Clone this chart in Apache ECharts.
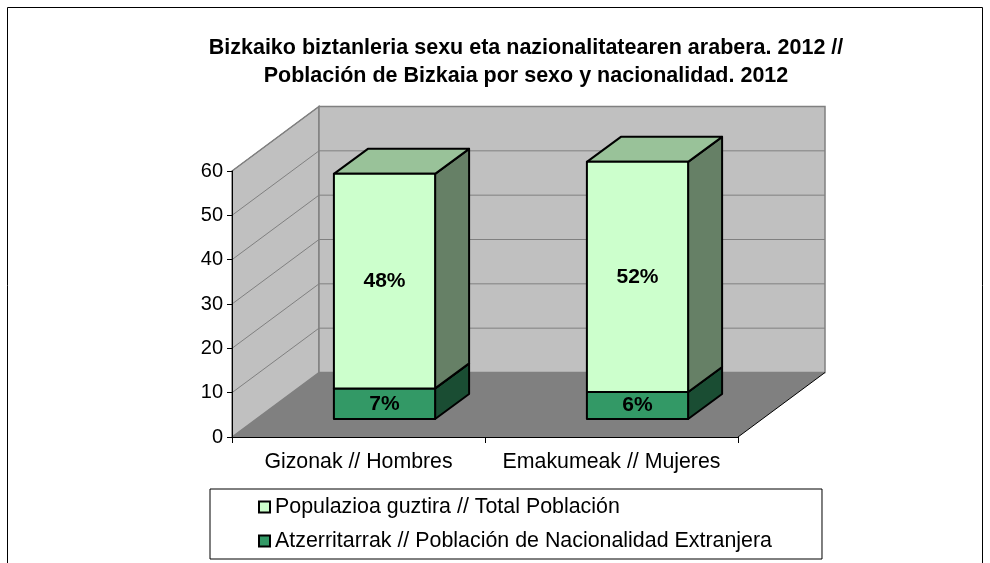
<!DOCTYPE html>
<html>
<head>
<meta charset="utf-8">
<script src="https://cdn.jsdelivr.net/npm/echarts@6/dist/echarts.min.js"></script>
<style>
  html, body { margin: 0; padding: 0; background: #fff; }
  #chart { width: 990px; height: 563px; }
</style>
</head>
<body>
<div id="chart"></div>
<script>
// data
const categories = ['Gizonak // Hombres', 'Emakumeak // Mujeres'];
const foreignValues = [6.9, 6.1];   // Atzerritarrak
const totalValues = [48.4, 51.9];   // Populazioa guztira
const yTicks = [0, 10, 20, 30, 40, 50, 60];
const seriesNames = [
  'Populazioa guztira // Total Población',
  'Atzerritarrak // Población de Nacionalidad Extranjera'
];

const FONT = 'Arial, "Liberation Sans", sans-serif';
const DEPTH = [87, -64.5];     // depth of the floor / walls
const BAR_OFF = [26, -18];     // where the front face of a bar sits
const BAR_DEPTH = [34, -25];   // depth of a bar

// stacked ranges: [category, from, to, value]
const foreignData = foreignValues.map((v, i) => [i, 0, v, v]);
const totalData = totalValues.map((v, i) => [i, foreignValues[i], foreignValues[i] + v, v]);

function renderWalls(params, api) {
  const cs = params.coordSys;
  const xl = cs.x, xr = cs.x + cs.width;
  const yb = api.coord([0, yTicks[0]])[1];
  const yt = api.coord([0, yTicks[yTicks.length - 1]])[1];
  const dx = DEPTH[0], dy = DEPTH[1];
  const wallLine = { stroke: '#808080', lineWidth: 1.5 };
  const children = [
    { type: 'polygon', shape: { points: [[xl, yt], [xl + dx, yt + dy], [xl + dx, yb + dy], [xl, yb]] },
      style: Object.assign({ fill: '#C0C0C0' }, wallLine) },
    { type: 'rect', shape: { x: xl + dx, y: yt + dy, width: xr - xl, height: yb - yt },
      style: Object.assign({ fill: '#C0C0C0' }, wallLine) },
    { type: 'polygon', shape: { points: [[xl, yb], [xr, yb], [xr + dx, yb + dy], [xl + dx, yb + dy]] },
      style: { fill: '#808080' } }
  ];
  // gridlines on the side and back walls
  yTicks.slice(1).forEach(v => {
    const y = api.coord([0, v])[1];
    children.push({ type: 'polyline', shape: { points: [[xl, y], [xl + dx, y + dy], [xr + dx, y + dy]] },
      style: { stroke: '#808080', lineWidth: 1, fill: null } });
  });
  children.push({ type: 'line', shape: { x1: xr, y1: yb, x2: xr + dx, y2: yb + dy },
    style: { stroke: '#000', lineWidth: 1 } });
  return { type: 'group', children: children };
}

function barRenderer(front, top, side) {
  return function (params, api) {
    const i = api.value(0);
    const lo = api.coord([i, api.value(1)]);
    const hi = api.coord([i, api.value(2)]);
    const w = api.size([1, 0])[0] * 0.4;
    const x0 = lo[0] - w / 2 + BAR_OFF[0], x1 = x0 + w;
    const yb = lo[1] + BAR_OFF[1], yt = hi[1] + BAR_OFF[1];
    const dx = BAR_DEPTH[0], dy = BAR_DEPTH[1];
    const edge = { stroke: '#000', lineWidth: 2, lineJoin: 'round' };
    return {
      type: 'group',
      children: [
        { type: 'polygon', shape: { points: [[x1, yt], [x1 + dx, yt + dy], [x1 + dx, yb + dy], [x1, yb]] },
          style: Object.assign({ fill: side }, edge) },
        { type: 'polygon', shape: { points: [[x0, yt], [x0 + dx, yt + dy], [x1 + dx, yt + dy], [x1, yt]] },
          style: Object.assign({ fill: top }, edge) },
        { type: 'rect', shape: { x: x0, y: yt, width: w, height: yb - yt },
          style: Object.assign({ fill: front }, edge) },
        { type: 'text', x: (x0 + x1) / 2, y: (yt + yb) / 2,
          style: { text: Math.round(api.value(3)) + '%', align: 'center', verticalAlign: 'middle',
                   fontSize: 21, fontWeight: 'bold', fontFamily: FONT, fill: '#000' } }
      ]
    };
  };
}

const chart = echarts.init(document.getElementById('chart'));

const option = {
  backgroundColor: '#fff',
  animation: false,
  title: {
    text: 'Bizkaiko biztanleria sexu eta nazionalitatearen arabera. 2012 //\nPoblación de Bizkaia por sexo y nacionalidad. 2012',
    left: 526,
    textAlign: 'center',
    top: 34,
    padding: 0,
    textStyle: { fontSize: 21.5, fontWeight: 'bold', lineHeight: 28, color: '#000', fontFamily: FONT }
  },
  graphic: [{
    type: 'rect', silent: true, z: -10,
    shape: { x: 7.5, y: 7.5, width: 975, height: 600 },
    style: { fill: 'none', stroke: '#000', lineWidth: 1 }
  }],
  legend: {
    orient: 'vertical',
    left: 210,
    top: 489,
    padding: [7, 50, 7, 48],
    itemGap: 12,
    itemWidth: 11,
    itemHeight: 11,
    icon: 'rect',
    borderColor: '#000',
    borderWidth: 1,
    selectedMode: false,
    textStyle: { fontSize: 21.4, color: '#000', fontFamily: FONT, lineHeight: 22 },
    data: [
      { name: seriesNames[0], itemStyle: { color: '#CCFFCC', borderColor: '#000', borderWidth: 2 } },
      { name: seriesNames[1], itemStyle: { color: '#339966', borderColor: '#000', borderWidth: 2 } }
    ]
  },
  grid: { left: 232, right: 252, top: 171, bottom: 126 },
  xAxis: {
    type: 'category',
    data: categories,
    z: 5,
    axisLine: { lineStyle: { color: '#000', width: 1 } },
    axisTick: { show: true, interval: 0, length: 6, lineStyle: { color: '#000' } },
    axisLabel: { interval: 0, fontSize: 21.3, color: '#000', fontFamily: FONT, margin: 15 },
    splitLine: { show: false }
  },
  yAxis: {
    type: 'value',
    min: 0,
    max: 60,
    interval: 10,
    z: 5,
    axisLine: { show: true, lineStyle: { color: '#000', width: 1 } },
    axisTick: { show: true, length: 5, lineStyle: { color: '#000' } },
    axisLabel: { fontSize: 20, color: '#000', fontFamily: FONT, margin: 9 },
    splitLine: { show: false }
  },
  series: [
    {
      name: 'walls', type: 'custom', z: 1, silent: true,
      renderItem: renderWalls,
      data: [[0, 0]],
      encode: { x: 0, y: 1 }
    },
    {
      name: seriesNames[1], type: 'custom', z: 2,
      itemStyle: { color: '#339966' },
      renderItem: barRenderer('#339966', '#26734D', '#1A4D33'),
      data: foreignData,
      encode: { x: 0, y: [1, 2] }
    },
    {
      name: seriesNames[0], type: 'custom', z: 3,
      itemStyle: { color: '#CCFFCC' },
      renderItem: barRenderer('#CCFFCC', '#99C299', '#668066'),
      data: totalData,
      encode: { x: 0, y: [1, 2] }
    }
  ]
};

chart.setOption(option);
</script>
</body>
</html>
